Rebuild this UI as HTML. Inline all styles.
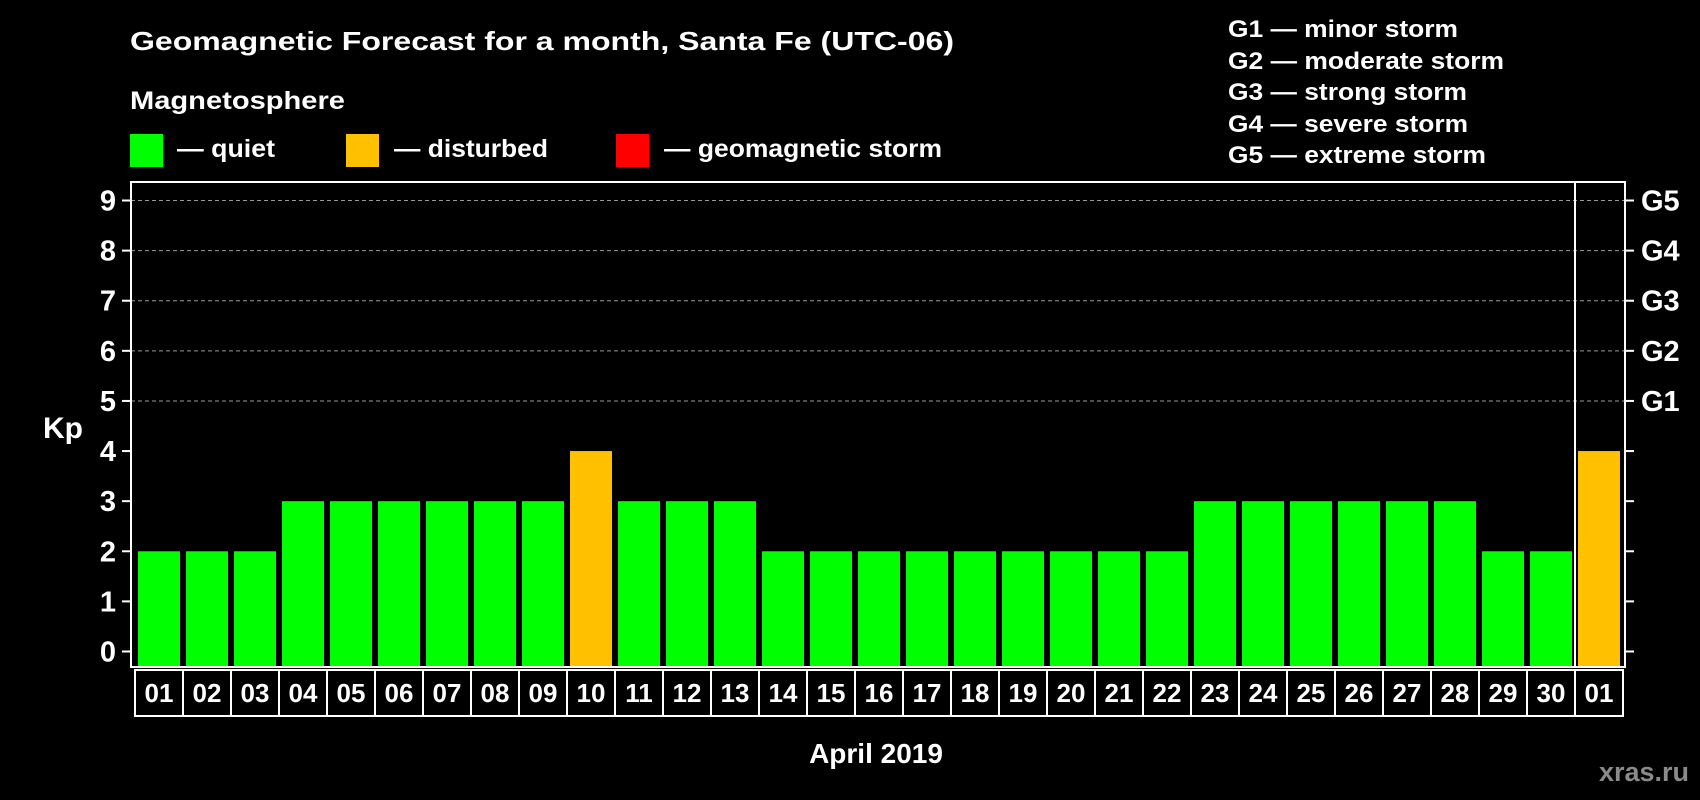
<!DOCTYPE html>
<html><head><meta charset="utf-8"><style>
html,body{margin:0;padding:0;background:#000;}
svg{display:block;}
text{font-family:"Liberation Sans",sans-serif;font-weight:bold;fill:#fff;}
</style></head><body>
<svg id="chart" width="1700" height="800" viewBox="0 0 1700 800" xmlns="http://www.w3.org/2000/svg">
<rect width="1700" height="800" fill="#000"/>
<text x="130" y="50" font-size="26" textLength="824" lengthAdjust="spacingAndGlyphs">Geomagnetic Forecast for a month, Santa Fe (UTC-06)</text>
<text x="130" y="109" font-size="25" textLength="215" lengthAdjust="spacingAndGlyphs">Magnetosphere</text>
<g><rect x="130" y="134" width="33" height="33" fill="#00ff00"/><text x="177" y="157" font-size="25" textLength="98" lengthAdjust="spacingAndGlyphs">— quiet</text></g>
<g><rect x="346" y="134" width="33" height="33" fill="#ffc000"/><text x="394" y="157" font-size="25" textLength="154" lengthAdjust="spacingAndGlyphs">— disturbed</text></g>
<g><rect x="616" y="134" width="33" height="33" fill="#ff0000"/><text x="664" y="157" font-size="25" textLength="278" lengthAdjust="spacingAndGlyphs">— geomagnetic storm</text></g>
<g font-size="24">
<text x="1228" y="37" textLength="230" lengthAdjust="spacingAndGlyphs">G1 — minor storm</text>
<text x="1228" y="69" textLength="276" lengthAdjust="spacingAndGlyphs">G2 — moderate storm</text>
<text x="1228" y="100" textLength="239" lengthAdjust="spacingAndGlyphs">G3 — strong storm</text>
<text x="1228" y="132" textLength="240" lengthAdjust="spacingAndGlyphs">G4 — severe storm</text>
<text x="1228" y="163" textLength="258" lengthAdjust="spacingAndGlyphs">G5 — extreme storm</text>
</g>
<g id="grid"></g><g id="bars"></g><g id="axes"></g>
<text x="63" y="438" font-size="30" text-anchor="middle">Kp</text>
<text x="876" y="763" font-size="28" text-anchor="middle">April 2019</text>
<text x="1689" y="781" font-size="27" text-anchor="end" style="fill:#8a8a8a">xras.ru</text>
</svg>
<script>
const categories=["01","02","03","04","05","06","07","08","09","10","11","12","13","14","15","16","17","18","19","20","21","22","23","24","25","26","27","28","29","30","01"];
const kpValues=[2,2,2,3,3,3,3,3,3,4,3,3,3,2,2,2,2,2,2,2,2,2,3,3,3,3,3,3,2,2,4];
const yTicks=[0,1,2,3,4,5,6,7,8,9];
const gLabels=["","","","","","G1","G2","G3","G4","G5"];
const NS="http://www.w3.org/2000/svg";
const L=131,R=1625,T=182,B=667,DIV=1575,x0=138,step=48,bw=42;
const Y0=651.5,Y9=200.5;
const y=v=>Y0-v*(Y0-Y9)/9;
const x=i=>x0+i*step;
function mk(tag,attrs,parent){const e=document.createElementNS(NS,tag);for(const k in attrs)e.setAttribute(k,attrs[k]);parent.appendChild(e);return e;}
const grid=document.getElementById('grid'),bars=document.getElementById('bars'),axes=document.getElementById('axes');
yTicks.forEach((v,i)=>{
 if(v>=5){const g=mk('line',{x1:L,x2:R,y1:y(v),y2:y(v),stroke:'#9a9a9a','stroke-width':1,'stroke-dasharray':'4,3'},grid);
 
 }
 const t1=mk('line',{x1:L-9,x2:L,y1:y(v),y2:y(v),stroke:'#fff','stroke-width':2},axes);
 
 
 const t2=mk('line',{x1:R,x2:R+9,y1:y(v),y2:y(v),stroke:'#fff','stroke-width':2},axes);
 
 
 const lb=mk('text',{x:116,y:y(v)+10,'font-size':29,'text-anchor':'end'},axes);lb.textContent=v;
 
 
 if(gLabels[i]){const gl=mk('text',{x:1641,y:y(v)+10,'font-size':29},axes);gl.textContent=gLabels[i];
 
 }
});
kpValues.forEach((v,i)=>{
 const c=v>=5?'#ff0000':(v>=4?'#ffc000':'#00ff00');
 const b=mk('rect',{x:x(i),y:y(v),width:bw,height:B-y(v),fill:c},bars);
 
 
});
mk('rect',{x:L,y:T,width:R-L,height:B-T,fill:'none',stroke:'#fff','stroke-width':2},axes);
mk('line',{x1:DIV,x2:DIV,y1:T,y2:B,stroke:'#fff','stroke-width':2},axes);
categories.forEach((c,i)=>{
 const bx=mk('rect',{x:x(i)-3,y:670,width:step,height:46,fill:'none',stroke:'#fff','stroke-width':2},axes);
 
 
 const t=mk('text',{x:x(i)+bw/2,y:702,'font-size':26,'text-anchor':'middle'},axes);t.textContent=c;
 
 
});
</script>
</body></html>
